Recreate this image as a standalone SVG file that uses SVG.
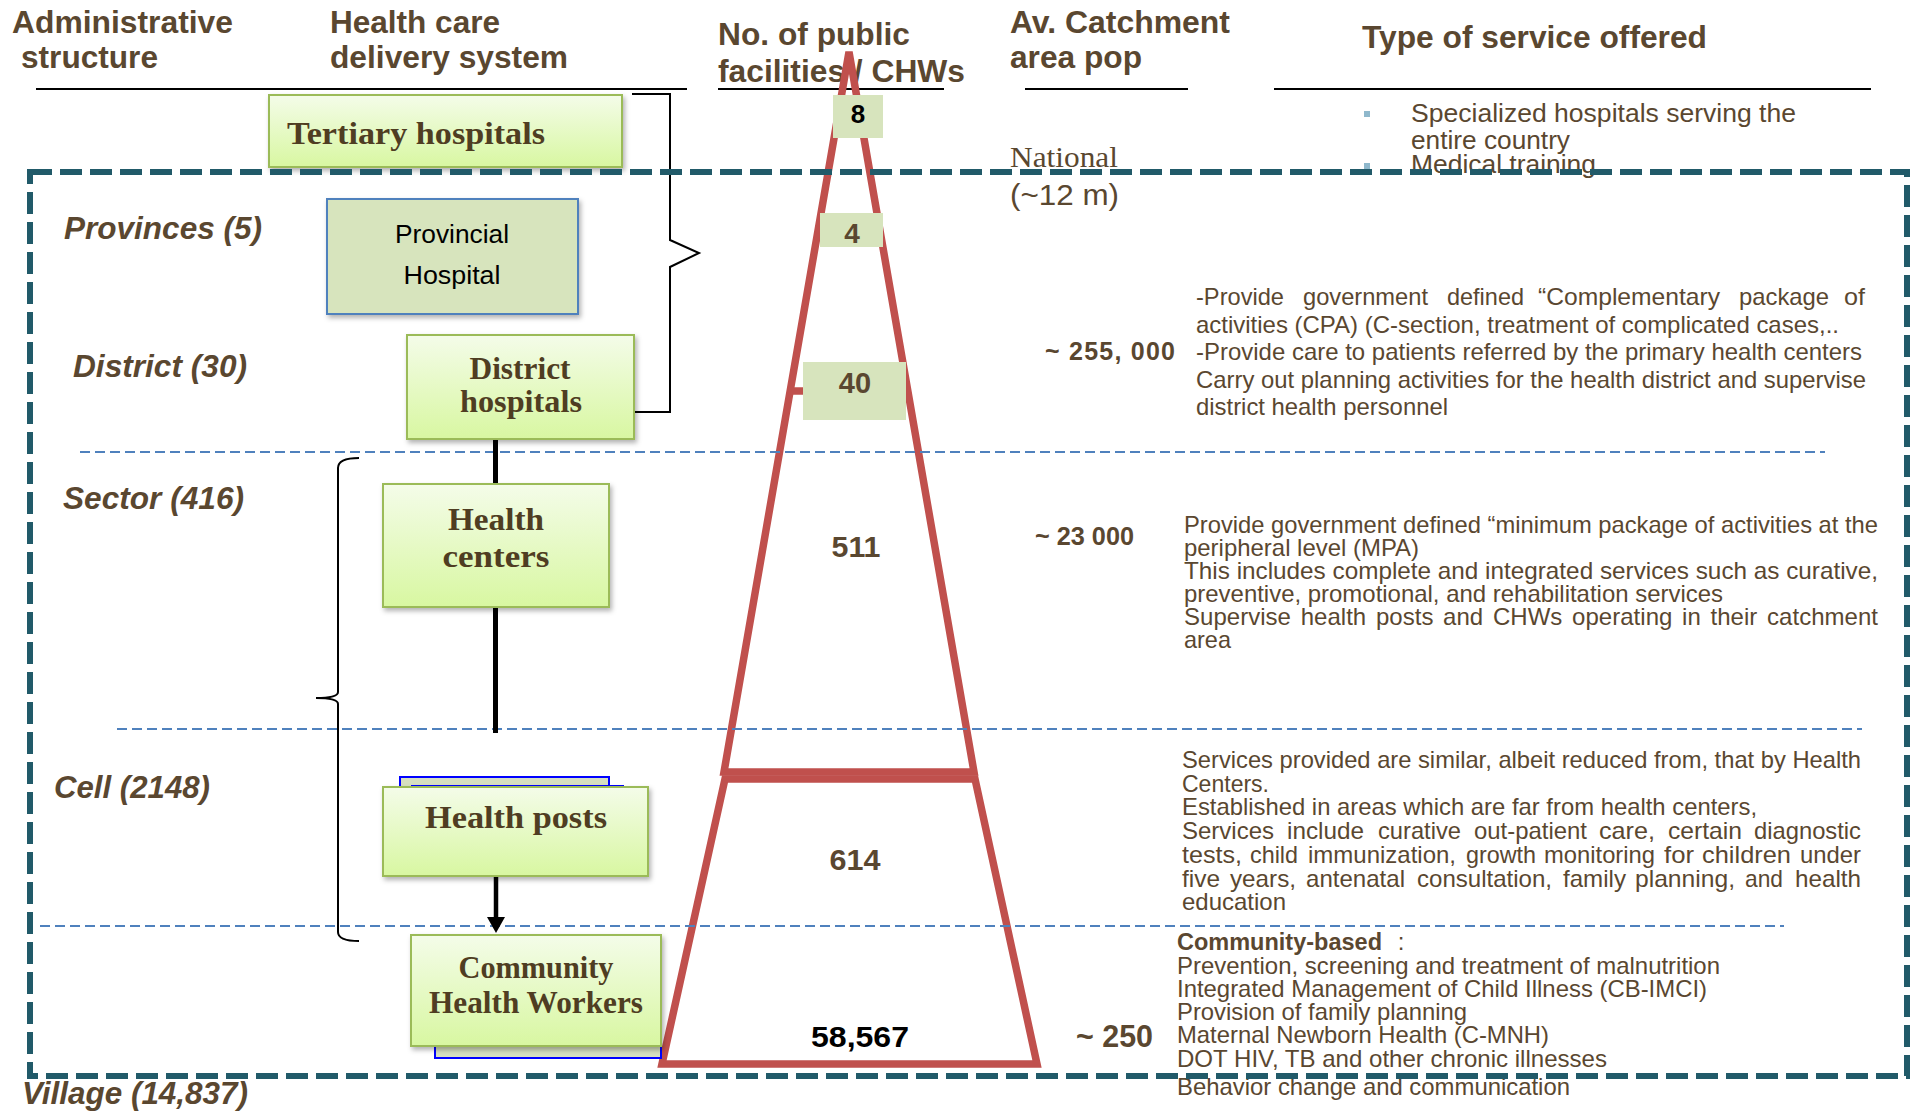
<svg xmlns="http://www.w3.org/2000/svg" width="1911" height="1113" viewBox="0 0 1911 1113">
<defs>
<linearGradient id="gg" x1="0" y1="0" x2="0" y2="1">
<stop offset="0" stop-color="#f4fce9"/>
<stop offset="1" stop-color="#d8f7a1"/>
</linearGradient>
<filter id="sh" x="-10%" y="-10%" width="125%" height="130%">
<feDropShadow dx="2" dy="3" stdDeviation="2.5" flood-color="#000" flood-opacity="0.3"/>
</filter>
<marker id="arr" markerUnits="userSpaceOnUse" markerWidth="18" markerHeight="18" viewBox="0 0 16 18" refX="0" refY="9" orient="auto">
<path d="M0,0 L16,9 L0,18 Z" fill="#000"/>
</marker>
<style>
.hdr{font-family:"Liberation Sans",Arial,sans-serif;font-weight:bold;font-size:31px;fill:#5a4730}
.adm{font-family:"Liberation Sans",Arial,sans-serif;font-weight:bold;font-style:italic;font-size:31px;fill:#5a4730}
.nd{font-family:"Liberation Serif","Times New Roman",serif;font-weight:bold;font-size:31px;fill:#4f3d22;text-anchor:middle}
.pv{font-family:"Liberation Sans",Arial,sans-serif;font-size:26px;fill:#000;text-anchor:middle}
.num{font-family:"Liberation Sans",Arial,sans-serif;font-weight:bold;font-size:29px;fill:#5a4730;text-anchor:middle}
.cat{font-family:"Liberation Sans",Arial,sans-serif;font-weight:bold;font-size:25px;fill:#5a4730}
.svc{font-family:"Liberation Sans",Arial,sans-serif;font-size:24px;fill:#5a4730}
.s1{font-family:"Liberation Sans",Arial,sans-serif;font-size:26px;fill:#5a4730}
.ul{stroke:#000;stroke-width:2;fill:none}
.tier{stroke:#4f81bd;stroke-width:2;stroke-dasharray:10 5;fill:none}
.pyr{stroke:#c0504d;stroke-width:7.5;fill:none;stroke-linejoin:miter}
.gbox{fill:url(#gg);stroke:#9bbb59;stroke-width:2;filter:url(#sh)}
.back{fill:#d6dfc0;stroke:#0000ff;stroke-width:2}
.nbox{fill:#d7e4bd}
.brace{stroke:#000;stroke-width:2;fill:none}
.conn{stroke:#000;stroke-width:5;fill:none}
</style>
</defs>
<rect width="1911" height="1113" fill="#fff"/>

<g id="headers">
<text class="hdr" x="12" y="33" textLength="221" lengthAdjust="spacingAndGlyphs">Administrative</text>
<text class="hdr" x="21" y="68" textLength="137" lengthAdjust="spacingAndGlyphs">structure</text>
<text class="hdr" x="330" y="33" textLength="170" lengthAdjust="spacingAndGlyphs">Health care</text>
<text class="hdr" x="330" y="68" textLength="238" lengthAdjust="spacingAndGlyphs">delivery system</text>
<text class="hdr" x="718" y="45" textLength="192" lengthAdjust="spacingAndGlyphs">No. of public</text>
<text class="hdr" x="718" y="82" textLength="247" lengthAdjust="spacingAndGlyphs">facilities / CHWs</text>
<text class="hdr" x="1010" y="33" textLength="220" lengthAdjust="spacingAndGlyphs">Av. Catchment</text>
<text class="hdr" x="1010" y="68" textLength="132" lengthAdjust="spacingAndGlyphs">area pop</text>
<text class="hdr" x="1362" y="48" textLength="345" lengthAdjust="spacingAndGlyphs">Type of service offered</text>
<line class="ul" x1="36" y1="89" x2="687" y2="89"/>
<line class="ul" x1="718" y1="89" x2="944" y2="89"/>
<line class="ul" x1="1025" y1="89" x2="1188" y2="89"/>
<line class="ul" x1="1274" y1="89" x2="1871" y2="89"/>
</g>

<g id="pyramid">
<path class="pyr" d="M849,52 L724,772 L974,772 Z"/>
<line class="pyr" x1="790" y1="391" x2="908" y2="391"/>
<path class="pyr" d="M725,779 L975,779 L1037,1064 L662,1064 Z"/>
</g>

<g id="tiers">
<line class="tier" x1="80" y1="452" x2="1825" y2="452"/>
<line class="tier" x1="117" y1="729" x2="1862" y2="729"/>
<line class="tier" x1="40" y1="926" x2="1784" y2="926"/>
</g>

<g id="counts">
<rect class="nbox" x="833" y="95" width="50" height="43"/>
<text class="num" x="858" y="123" style="fill:#000;font-size:26px">8</text>
<rect class="nbox" x="820" y="213" width="63" height="34"/>
<text class="num" x="852" y="243" style="font-size:28px">4</text>
<rect class="nbox" x="803" y="362" width="103" height="58"/>
<text class="num" x="855" y="393">40</text>
<text class="num" x="856" y="557" textLength="49" lengthAdjust="spacingAndGlyphs">511</text>
<text class="num" x="855" y="870" textLength="51" lengthAdjust="spacingAndGlyphs">614</text>
<text class="num" x="860" y="1047" style="fill:#000;font-size:30px" textLength="98" lengthAdjust="spacingAndGlyphs">58,567</text>
</g>

<g id="catchment">
<text x="1010" y="167" textLength="108" lengthAdjust="spacingAndGlyphs" style="font-family:'Liberation Serif','Times New Roman',serif;font-size:29px;fill:#5a4730">National</text>
<text x="1010" y="205" textLength="109" lengthAdjust="spacingAndGlyphs" style="font-family:'Liberation Sans',Arial,sans-serif;font-size:29px;fill:#5a4730">(~12 m)</text>
<text class="cat" x="1045" y="360" textLength="130" lengthAdjust="spacing">~  255, 000</text>
<text class="cat" x="1035" y="545" textLength="99" lengthAdjust="spacingAndGlyphs">~ 23 000</text>
<text class="cat" x="1076" y="1047" style="font-size:32px" textLength="77" lengthAdjust="spacingAndGlyphs">~ 250</text>
</g>

<g id="admin-levels">
<text class="adm" x="64" y="239" textLength="198" lengthAdjust="spacingAndGlyphs">Provinces (5)</text>
<text class="adm" x="73" y="377" textLength="174" lengthAdjust="spacingAndGlyphs">District (30)</text>
<text class="adm" x="63" y="509" textLength="181" lengthAdjust="spacingAndGlyphs">Sector (416)</text>
<text class="adm" x="54" y="798" textLength="156" lengthAdjust="spacingAndGlyphs">Cell (2148)</text>
<text class="adm" x="22" y="1104" textLength="226" lengthAdjust="spacingAndGlyphs">Village (14,837)</text>
</g>

<g id="connectors">
<path class="brace" d="M632,94 H670 V240 L699,253 L670,267 V412 H634"/>
<path class="brace" d="M359,458 Q338,458 338,468 V692 Q338,698 316,698 Q338,698 338,704 V932 Q338,941 359,941"/>
<line class="conn" x1="495.5" y1="439" x2="495.5" y2="484"/>
<line class="conn" x1="495.5" y1="607" x2="495.5" y2="733"/>
<line class="conn" x1="496" y1="877" x2="496" y2="917" style="stroke-width:4.5" marker-end="url(#arr)"/>
</g>

<g id="tertiary-hospitals">
<rect class="gbox" x="269" y="95" width="353" height="72"/>
<text class="nd" x="287" y="144" style="text-anchor:start" textLength="258" lengthAdjust="spacingAndGlyphs">Tertiary hospitals</text>
</g>

<g id="provincial-hospital">
<rect x="327" y="199" width="251" height="115" fill="#d7e4bd" stroke="#4f81bd" stroke-width="2" filter="url(#sh)"/>
<text class="pv" x="452" y="243" textLength="114" lengthAdjust="spacingAndGlyphs">Provincial</text>
<text class="pv" x="452" y="284" textLength="97" lengthAdjust="spacingAndGlyphs">Hospital</text>
</g>

<g id="district-hospitals">
<rect class="gbox" x="407" y="335" width="227" height="104"/>
<text class="nd" x="520" y="379" textLength="101" lengthAdjust="spacingAndGlyphs">District</text>
<text class="nd" x="521" y="412" textLength="122" lengthAdjust="spacingAndGlyphs">hospitals</text>
</g>

<g id="health-centers">
<rect class="gbox" x="383" y="484" width="226" height="123"/>
<text class="nd" x="496" y="530" textLength="96" lengthAdjust="spacingAndGlyphs">Health</text>
<text class="nd" x="496" y="567" textLength="107" lengthAdjust="spacingAndGlyphs">centers</text>
</g>

<g id="health-posts">
<rect class="back" x="400" y="777" width="209" height="30"/>
<rect class="back" x="412" y="786" width="211" height="30"/>
<rect class="gbox" x="383" y="787" width="265" height="89"/>
<text class="nd" x="516" y="828" textLength="182" lengthAdjust="spacingAndGlyphs">Health posts</text>
</g>

<g id="community-health-workers">
<rect class="back" x="435" y="1000" width="226" height="58"/>
<rect class="gbox" x="411" y="935" width="250" height="111"/>
<text class="nd" x="536" y="978" textLength="155" lengthAdjust="spacingAndGlyphs">Community</text>
<text class="nd" x="536" y="1013" textLength="214" lengthAdjust="spacingAndGlyphs">Health Workers</text>
</g>

<g id="services">
<rect x="1364" y="111" width="6" height="6" fill="#8fb8cc"/>
<rect x="1364" y="163" width="6" height="6" fill="#8fb8cc"/>
<text class="s1" x="1411" y="122" textLength="385" lengthAdjust="spacingAndGlyphs">Specialized hospitals serving the</text>
<text class="s1" x="1411" y="149" textLength="159" lengthAdjust="spacingAndGlyphs">entire country</text>
<text class="s1" x="1411" y="173" textLength="185" lengthAdjust="spacingAndGlyphs">Medical training</text>

<text class="svc" x="1196" y="305" textLength="88" lengthAdjust="spacingAndGlyphs">-Provide</text>
<text class="svc" x="1303" y="305" textLength="125" lengthAdjust="spacingAndGlyphs">government</text>
<text class="svc" x="1447" y="305" textLength="77" lengthAdjust="spacingAndGlyphs">defined</text>
<text class="svc" x="1538" y="305" textLength="182" lengthAdjust="spacingAndGlyphs">“Complementary</text>
<text class="svc" x="1739" y="305" textLength="90" lengthAdjust="spacingAndGlyphs">package</text>
<text class="svc" x="1844" y="305" textLength="21" lengthAdjust="spacingAndGlyphs">of</text>
<text class="svc" x="1196" y="333" textLength="643" lengthAdjust="spacingAndGlyphs">activities (CPA) (C-section, treatment of complicated cases,..</text>
<text class="svc" x="1196" y="360" textLength="666" lengthAdjust="spacingAndGlyphs">-Provide care to patients referred by the primary health centers</text>
<text class="svc" x="1196" y="388" textLength="670" lengthAdjust="spacingAndGlyphs">Carry out planning activities for the health district and supervise</text>
<text class="svc" x="1196" y="415" textLength="252" lengthAdjust="spacingAndGlyphs">district health personnel</text>

<text class="svc" x="1184" y="533" textLength="694" lengthAdjust="spacingAndGlyphs">Provide government defined “minimum package of activities at the</text>
<text class="svc" x="1184" y="556" textLength="235" lengthAdjust="spacingAndGlyphs">peripheral level (MPA)</text>
<text class="svc" x="1184" y="579" textLength="694" lengthAdjust="spacingAndGlyphs">This includes complete and integrated services such as curative,</text>
<text class="svc" x="1184" y="602" textLength="539" lengthAdjust="spacingAndGlyphs">preventive, promotional, and rehabilitation services</text>
<text class="svc" x="1184" y="625" style="word-spacing:3px" textLength="694" lengthAdjust="spacing">Supervise health posts and CHWs operating in their catchment</text>
<text class="svc" x="1184" y="648" textLength="47" lengthAdjust="spacingAndGlyphs">area</text>

<text class="svc" x="1182" y="768" textLength="679" lengthAdjust="spacingAndGlyphs">Services provided are similar, albeit reduced from, that by Health</text>
<text class="svc" x="1182" y="792" textLength="87" lengthAdjust="spacingAndGlyphs">Centers.</text>
<text class="svc" x="1182" y="815" textLength="575" lengthAdjust="spacingAndGlyphs">Established in areas which are far from health centers,</text>
<text class="svc" x="1182" y="839" textLength="92" lengthAdjust="spacingAndGlyphs">Services</text>
<text class="svc" x="1287" y="839" textLength="77" lengthAdjust="spacingAndGlyphs">include</text>
<text class="svc" x="1378" y="839" textLength="83" lengthAdjust="spacingAndGlyphs">curative</text>
<text class="svc" x="1474" y="839" textLength="113" lengthAdjust="spacingAndGlyphs">out-patient</text>
<text class="svc" x="1599" y="839" textLength="56" lengthAdjust="spacingAndGlyphs">care,</text>
<text class="svc" x="1668" y="839" textLength="74" lengthAdjust="spacingAndGlyphs">certain</text>
<text class="svc" x="1754" y="839" textLength="107" lengthAdjust="spacingAndGlyphs">diagnostic</text>
<text class="svc" x="1182" y="863" textLength="60" lengthAdjust="spacingAndGlyphs">tests,</text>
<text class="svc" x="1250" y="863" textLength="48" lengthAdjust="spacingAndGlyphs">child</text>
<text class="svc" x="1308" y="863" textLength="148" lengthAdjust="spacingAndGlyphs">immunization,</text>
<text class="svc" x="1466" y="863" textLength="70" lengthAdjust="spacingAndGlyphs">growth</text>
<text class="svc" x="1544" y="863" textLength="111" lengthAdjust="spacingAndGlyphs">monitoring</text>
<text class="svc" x="1664" y="863" textLength="30" lengthAdjust="spacingAndGlyphs">for</text>
<text class="svc" x="1702" y="863" textLength="89" lengthAdjust="spacingAndGlyphs">children</text>
<text class="svc" x="1800" y="863" textLength="61" lengthAdjust="spacingAndGlyphs">under</text>
<text class="svc" x="1182" y="887" textLength="38" lengthAdjust="spacingAndGlyphs">five</text>
<text class="svc" x="1230" y="887" textLength="66" lengthAdjust="spacingAndGlyphs">years,</text>
<text class="svc" x="1306" y="887" textLength="99" lengthAdjust="spacingAndGlyphs">antenatal</text>
<text class="svc" x="1417" y="887" textLength="135" lengthAdjust="spacingAndGlyphs">consultation,</text>
<text class="svc" x="1563" y="887" textLength="63" lengthAdjust="spacingAndGlyphs">family</text>
<text class="svc" x="1635" y="887" textLength="100" lengthAdjust="spacingAndGlyphs">planning,</text>
<text class="svc" x="1745" y="887" textLength="38" lengthAdjust="spacingAndGlyphs">and</text>
<text class="svc" x="1795" y="887" textLength="66" lengthAdjust="spacingAndGlyphs">health</text>
<text class="svc" x="1182" y="910" textLength="104" lengthAdjust="spacingAndGlyphs">education</text>

<text class="svc" x="1177" y="950"><tspan style="font-weight:bold" textLength="205" lengthAdjust="spacingAndGlyphs">Community-based</tspan><tspan x="1391"> :</tspan></text>
<text class="svc" x="1177" y="974" textLength="543" lengthAdjust="spacingAndGlyphs">Prevention, screening and treatment of malnutrition</text>
<text class="svc" x="1177" y="997" textLength="530" lengthAdjust="spacingAndGlyphs">Integrated Management of Child Illness (CB-IMCI)</text>
<text class="svc" x="1177" y="1020" textLength="290" lengthAdjust="spacingAndGlyphs">Provision of family planning</text>
<text class="svc" x="1177" y="1043" textLength="372" lengthAdjust="spacingAndGlyphs">Maternal Newborn Health (C-MNH)</text>
<text class="svc" x="1177" y="1067" textLength="430" lengthAdjust="spacingAndGlyphs">DOT HIV, TB and other chronic illnesses</text>
<text class="svc" x="1177" y="1095" textLength="393" lengthAdjust="spacingAndGlyphs">Behavior change and communication</text>
</g>

<g id="frame">
<rect x="30" y="172" width="1877" height="904" fill="none" stroke="#215a69" stroke-width="6" stroke-dasharray="22 8"/>
</g>
</svg>
